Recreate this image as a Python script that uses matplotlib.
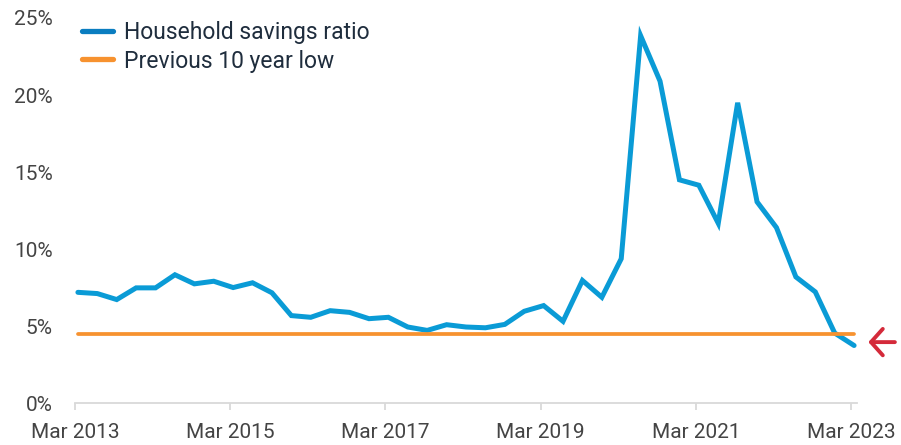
import numpy as np
import matplotlib
matplotlib.use('Agg')
import matplotlib.pyplot as plt
from matplotlib.lines import Line2D

# quarterly household savings ratio, Mar 2013 .. Mar 2023 (%)
savings = [7.2, 7.12, 6.73, 7.49, 7.49, 8.34, 7.75, 7.92,
           7.51, 7.82, 7.17, 5.69, 5.58, 6.01, 5.9, 5.49,
           5.58, 4.95, 4.73, 5.1,
           4.95, 4.9, 5.12, 5.97, 6.34, 5.32, 7.97, 6.88,
           9.38, 23.85, 20.9, 14.5, 14.15, 11.68, 19.5, 13.07,
           11.4, 8.2, 7.23, 4.56, 3.75]
prev_low = 4.5
tick_labels = ['Mar 2013', 'Mar 2015', 'Mar 2017', 'Mar 2019', 'Mar 2021', 'Mar 2023']
yticks = [0, 5, 10, 15, 20, 25]

blue = '#0A9BD6'
blue_dark = '#0A7DC0'
orange = '#F7922F'
red = '#D42A3A'
grey = '#D9D9D9'
txt = '#444444'

plt.rcParams['font.family'] = ['Roboto', 'DejaVu Sans']

fig = plt.figure(figsize=(9.01, 4.45), dpi=100)
ax = fig.add_axes([75/901, 1-403.3/445, (857-75)/901, (403.3-18)/445])

x = np.arange(len(savings)) + 0.15
ax.plot(x, savings, color=blue, lw=3.6, solid_capstyle='round', solid_joinstyle='miter', zorder=3)
ax.plot([x[0], x[-1]], [prev_low, prev_low], color=orange, lw=2.7, solid_capstyle='round', zorder=4)

ax.set_xlim(0, 40.3)
ax.set_ylim(0, 25)
ax.set_xticks(np.arange(0, 41, 8))
ax.set_xticklabels(tick_labels)
ax.set_yticks(yticks)
ax.set_yticklabels([f'{v}%' for v in yticks])

for s in ['top', 'right', 'left']:
    ax.spines[s].set_visible(False)
ax.spines['bottom'].set_color(grey)
ax.spines['bottom'].set_linewidth(1.3)
ax.tick_params(axis='x', colors=grey, length=5, width=1.3, labelsize=15, labelcolor=txt, pad=9)
ax.tick_params(axis='y', length=0, labelsize=15, labelcolor=txt, pad=16)

handles = [Line2D([], [], color=blue_dark, lw=3.8, solid_capstyle='round'),
           Line2D([], [], color=orange, lw=3.8, solid_capstyle='round')]
leg = ax.legend(handles, ['Household savings ratio', 'Previous 10 year low'],
                loc='upper left', bbox_to_anchor=(-0.011, 1.035), frameon=False,
                fontsize=16.5, handlelength=1.35, handletextpad=0.45,
                labelspacing=0.26, borderaxespad=0.3)
for t in leg.get_texts():
    t.set_color('#1F2D3D')

# red arrow pointing at the latest value
ax.annotate('', xy=(1.011, 3.97), xytext=(1.052, 3.97),
            xycoords=('axes fraction', 'data'), textcoords=('axes fraction', 'data'),
            arrowprops=dict(arrowstyle='->,head_length=0.85,head_width=0.95',
                            color=red, lw=2.8, capstyle='round', joinstyle='round'),
            annotation_clip=False)

plt.savefig('out.png', dpi=100)
plt.close(fig)
